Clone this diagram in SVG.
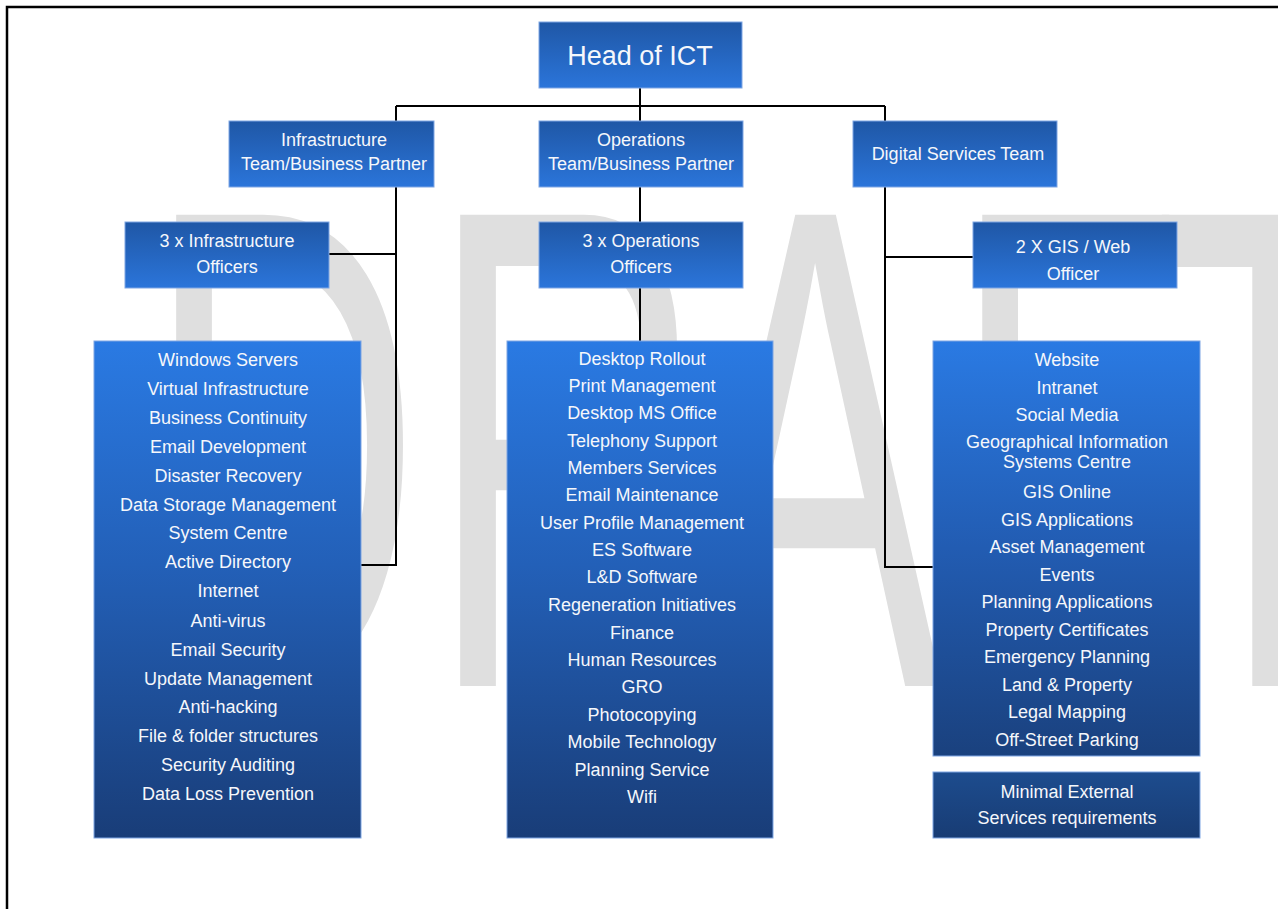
<svg xmlns="http://www.w3.org/2000/svg" width="1278" height="909" viewBox="0 0 1278 909">
<defs>
<linearGradient id="gTop" x1="0" y1="0" x2="0" y2="1">
<stop offset="0" stop-color="#1f57a6"/>
<stop offset="1" stop-color="#2b75da"/>
</linearGradient>
<linearGradient id="gList" x1="0" y1="0" x2="0" y2="1">
<stop offset="0" stop-color="#2a7ae3"/>
<stop offset="0.45" stop-color="#2360b8"/>
<stop offset="1" stop-color="#193d78"/>
</linearGradient>
<linearGradient id="gListShort" x1="0" y1="0" x2="0" y2="1">
<stop offset="0" stop-color="#2a7ae3"/>
<stop offset="0.5" stop-color="#225cb2"/>
<stop offset="1" stop-color="#1a417e"/>
</linearGradient>
<linearGradient id="gDark" x1="0" y1="0" x2="0" y2="1">
<stop offset="0" stop-color="#1d4c8e"/>
<stop offset="1" stop-color="#183c74"/>
</linearGradient>
</defs>
<style>
.box{stroke:#7ea6e4;stroke-width:1}
.t{font-family:"Liberation Sans",Arial,sans-serif;fill:#f5f7fb;text-anchor:middle;font-size:18px}
.big{font-size:27px}
.wm{font-family:"Liberation Sans",Arial,sans-serif;fill:#dfdfdf;font-size:685px}
.c{stroke:#000;stroke-width:2;fill:none}
</style>
<rect width="1278" height="909" fill="#fff"/>
<path d="M7,909 V7 H1278" stroke="#000" stroke-width="2.5" fill="none"/>
<text class="wm" transform="translate(0,686) scale(0.559,1)"><tspan x="259" y="0">D</tspan><tspan x="767" y="0">R</tspan><tspan x="1229" y="0">A</tspan><tspan x="1701" y="0">F</tspan><tspan x="2063" y="0">T</tspan></text>
<g id="connectors">
<path class="c" d="M640,88 V341"/>
<path class="c" d="M396,106 H885"/>
<path class="c" d="M396,106 V565 H361"/>
<path class="c" d="M329,254 H396"/>
<path class="c" d="M885,106 V567 H933"/>
<path class="c" d="M885,257 H973"/>
</g>
<g id="head">
<rect class="box" x="539" y="22" width="203" height="66" fill="url(#gTop)"/>
<text class="t big" x="640" y="65">Head of ICT</text>
</g>
<g id="infra-team">
<rect class="box" x="229" y="121" width="205" height="66" fill="url(#gTop)"/>
<text class="t" x="334" y="146">Infrastructure</text>
<text class="t" x="334" y="170">Team/Business Partner</text>
</g>
<g id="ops-team">
<rect class="box" x="539" y="121" width="204" height="66" fill="url(#gTop)"/>
<text class="t" x="641" y="146">Operations</text>
<text class="t" x="641" y="170">Team/Business Partner</text>
</g>
<g id="digital-team">
<rect class="box" x="853" y="121" width="204" height="66" fill="url(#gTop)"/>
<text class="t" x="958" y="160">Digital Services Team</text>
</g>
<g id="infra-officers">
<rect class="box" x="125" y="222" width="204" height="66" fill="url(#gTop)"/>
<text class="t" x="227" y="247">3 x Infrastructure</text>
<text class="t" x="227" y="273">Officers</text>
</g>
<g id="ops-officers">
<rect class="box" x="539" y="222" width="204" height="66" fill="url(#gTop)"/>
<text class="t" x="641" y="247">3 x Operations</text>
<text class="t" x="641" y="273">Officers</text>
</g>
<g id="gis-officer">
<rect class="box" x="973" y="222" width="204" height="66" fill="url(#gTop)"/>
<text class="t" x="1073" y="253">2 X GIS / Web</text>
<text class="t" x="1073" y="280">Officer</text>
</g>
<g id="infra-list">
<rect class="box" x="94" y="341" width="267" height="497" fill="url(#gList)"/>
<text class="t" x="228" y="366">Windows Servers</text>
<text class="t" x="228" y="395">Virtual Infrastructure</text>
<text class="t" x="228" y="424">Business Continuity</text>
<text class="t" x="228" y="453">Email Development</text>
<text class="t" x="228" y="482">Disaster Recovery</text>
<text class="t" x="228" y="511">Data Storage Management</text>
<text class="t" x="228" y="539">System Centre</text>
<text class="t" x="228" y="568">Active Directory</text>
<text class="t" x="228" y="597">Internet</text>
<text class="t" x="228" y="627">Anti-virus</text>
<text class="t" x="228" y="656">Email Security</text>
<text class="t" x="228" y="685">Update Management</text>
<text class="t" x="228" y="713">Anti-hacking</text>
<text class="t" x="228" y="742">File &amp; folder structures</text>
<text class="t" x="228" y="771">Security Auditing</text>
<text class="t" x="228" y="800">Data Loss Prevention</text>
</g>
<g id="ops-list">
<rect class="box" x="507" y="341" width="266" height="497" fill="url(#gList)"/>
<text class="t" x="642" y="365">Desktop Rollout</text>
<text class="t" x="642" y="392">Print Management</text>
<text class="t" x="642" y="419">Desktop MS Office</text>
<text class="t" x="642" y="447">Telephony Support</text>
<text class="t" x="642" y="474">Members Services</text>
<text class="t" x="642" y="501">Email Maintenance</text>
<text class="t" x="642" y="529">User Profile Management</text>
<text class="t" x="642" y="556">ES Software</text>
<text class="t" x="642" y="583">L&amp;D Software</text>
<text class="t" x="642" y="611">Regeneration Initiatives</text>
<text class="t" x="642" y="639">Finance</text>
<text class="t" x="642" y="666">Human Resources</text>
<text class="t" x="642" y="693">GRO</text>
<text class="t" x="642" y="721">Photocopying</text>
<text class="t" x="642" y="748">Mobile Technology</text>
<text class="t" x="642" y="776">Planning Service</text>
<text class="t" x="642" y="803">Wifi</text>
</g>
<g id="digital-list">
<rect class="box" x="933" y="341" width="267" height="415" fill="url(#gListShort)"/>
<text class="t" x="1067" y="366">Website</text>
<text class="t" x="1067" y="394">Intranet</text>
<text class="t" x="1067" y="421">Social Media</text>
<text class="t" x="1067" y="448">Geographical Information</text>
<text class="t" x="1067" y="468">Systems Centre</text>
<text class="t" x="1067" y="498">GIS Online</text>
<text class="t" x="1067" y="526">GIS Applications</text>
<text class="t" x="1067" y="553">Asset Management</text>
<text class="t" x="1067" y="581">Events</text>
<text class="t" x="1067" y="608">Planning Applications</text>
<text class="t" x="1067" y="636">Property Certificates</text>
<text class="t" x="1067" y="663">Emergency Planning</text>
<text class="t" x="1067" y="691">Land &amp; Property</text>
<text class="t" x="1067" y="718">Legal Mapping</text>
<text class="t" x="1067" y="746">Off-Street Parking</text>
</g>
<g id="external">
<rect class="box" x="933" y="772" width="267" height="66" fill="url(#gDark)"/>
<text class="t" x="1067" y="798">Minimal External</text>
<text class="t" x="1067" y="824">Services requirements</text>
</g>
</svg>
